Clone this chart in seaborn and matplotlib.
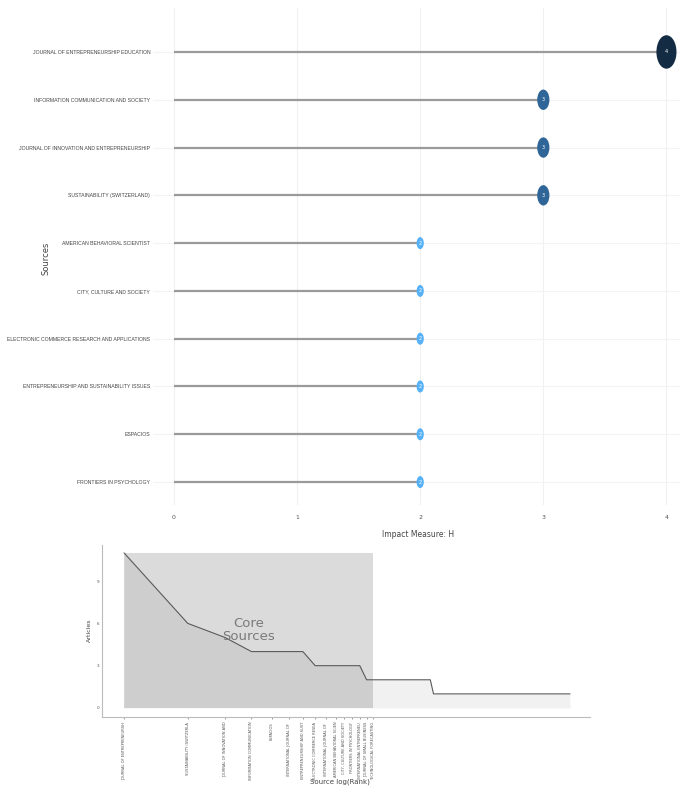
import numpy as np
import pandas as pd
import matplotlib
matplotlib.use("Agg")
import matplotlib.pyplot as plt
from matplotlib.patches import Rectangle
from matplotlib.path import Path
import seaborn as sns

# ─── Data: source impact (H index) ───────────────────────────────────────────
sources = [
    "JOURNAL OF ENTREPRENEURSHIP EDUCATION",
    "INFORMATION COMMUNICATION AND SOCIETY",
    "JOURNAL OF INNOVATION AND ENTREPRENEURSHIP",
    "SUSTAINABILITY (SWITZERLAND)",
    "AMERICAN BEHAVIORAL SCIENTIST",
    "CITY, CULTURE AND SOCIETY",
    "ELECTRONIC COMMERCE RESEARCH AND APPLICATIONS",
    "ENTREPRENEURSHIP AND SUSTAINABILITY ISSUES",
    "ESPACIOS",
    "FRONTIERS IN PSYCHOLOGY",
]
h_index = [4, 3, 3, 3, 2, 2, 2, 2, 2, 2]
h_ticks = [0, 1, 2, 3, 4]

# ─── Data: Bradford's law ────────────────────────────────────────────────────
core_sources = [
    "JOURNAL OF ENTREPRENEURSHIP EDUCATION",
    "SUSTAINABILITY (SWITZERLAND)",
    "JOURNAL OF INNOVATION AND ENTREPRENEURSHIP",
    "INFORMATION COMMUNICATION AND SOCIETY",
    "ESPACIOS",
    "INTERNATIONAL JOURNAL OF ENTREPRENEURIAL BEHAVIOR",
    "ENTREPRENEURSHIP AND SUSTAINABILITY ISSUES",
    "ELECTRONIC COMMERCE RESEARCH AND APPLICATIONS",
    "INTERNATIONAL JOURNAL OF GENDER AND ENTREPRENEURSHIP",
    "AMERICAN BEHAVIORAL SCIENTIST",
    "CITY, CULTURE AND SOCIETY",
    "FRONTIERS IN PSYCHOLOGY",
    "INTERNATIONAL ENTREPRENEURSHIP AND MANAGEMENT JOURNAL",
    "JOURNAL OF SMALL BUSINESS MANAGEMENT",
    "TECHNOLOGICAL FORECASTING AND SOCIAL CHANGE",
]
article_levels = [11, 6, 5, 4, 3, 2, 1]
sources_per_level = [1, 1, 1, 4, 6, 15, 100]
articles_ticks = [0, 3, 6, 9]

freq = np.repeat(article_levels, sources_per_level)
rank = np.arange(1, len(freq) + 1)
log_rank = np.log(rank)
n_core = len(core_sources)

sns.set_theme(style="white")
plt.rcParams["font.family"] = ["DejaVu Sans"]

fig = plt.figure(figsize=(6.84, 7.87), dpi=100)

# ─── Panel 1: lollipop of H index ────────────────────────────────────────────
ax1 = fig.add_axes([153 / 684, (787 - 505) / 787, (680 - 153) / 684, 497 / 787])
for x in h_ticks:
    ax1.axvline(x, color="#f0f0f0", lw=0.8, zorder=0)
ax1.hlines(sources, -0.2, 4.2, color="#f3f3f3", lw=0.8, zorder=0)
ax1.hlines(sources, 0, h_index, color="#9a9a9a", lw=1.6, zorder=1)

df = pd.DataFrame({"source": sources, "h": h_index})
ellipse = Path.unit_circle()
ellipse = Path(ellipse.vertices * np.array([0.6, 1.0]), ellipse.codes)
sns.scatterplot(
    data=df, x="h", y="source", hue="h", size="h",
    palette={2: "#56B1F7", 3: "#2F6697", 4: "#132B43"},
    sizes={2: 75, 3: 215, 4: 580},
    marker=ellipse, edgecolor="none", legend=False, zorder=3, ax=ax1,
)
for s, h in zip(sources, h_index):
    ax1.text(h, s, str(h), ha="center", va="center", color="white",
             fontsize=3.5, zorder=4)

ax1.set_xlim(-0.17, 4.11)
ax1.set_ylim(9.48, -0.92)
ax1.set_xticks(h_ticks)
ax1.tick_params(axis="x", labelsize=4.5, colors="#555555", pad=7, length=0)
ax1.tick_params(axis="y", labelsize=3.7, colors="#444444", pad=2, length=0)
for lab in ax1.get_yticklabels():
    lab.set_family(["Liberation Sans", "DejaVu Sans"])
ax1.set_xlabel("Impact Measure: H", fontsize=5.5, color="#444444")
ax1.set_ylabel("Sources", fontsize=6, color="#444444")
ax1.xaxis.set_label_coords(0.503, -0.05)
ax1.yaxis.set_label_coords(-0.195, 0.497)
sns.despine(ax=ax1, left=True, bottom=True)

# ─── Panel 2: Bradford's law core sources ────────────────────────────────────
ax2 = fig.add_axes([102 / 684, 70 / 787, 488 / 684, 172 / 787])
ax2.fill_between(log_rank, freq, color="#e5e5e5", alpha=0.5, lw=0, zorder=1)
ax2.add_patch(Rectangle((0, 0), log_rank[n_core - 1], freq.max(),
                        color="black", alpha=0.14, lw=0, zorder=2))
sns.lineplot(x=log_rank, y=freq, color="#5a5a5a", lw=0.8, ax=ax2, zorder=3)
ax2.text(log_rank[n_core - 1] / 2, freq.max() / 2, "Core\nSources",
         ha="center", va="center", fontsize=9.5, color="#7a7a7a",
         linespacing=1.0, zorder=4)

ax2.set_xlim(-0.24, 5.07)
ax2.set_ylim(-0.64, 11.56)
ax2.set_yticks(articles_ticks)
ax2.set_xticks(log_rank[:n_core])
ax2.set_xticklabels([s[:25] for s in core_sources], rotation=90)
ax2.tick_params(axis="x", labelsize=2.6, colors="#555555", pad=2,
                length=1.5, width=0.4, bottom=True)
ax2.tick_params(axis="y", labelsize=3, colors="#555555", pad=2,
                length=0)
ax2.set_xlabel("Source log(Rank)", fontsize=5, color="#444444")
ax2.set_ylabel("Articles", fontsize=4.5, color="#444444")
ax2.xaxis.set_label_coords(0.488, -0.355)
ax2.yaxis.set_label_coords(-0.02, 0.506)
sns.despine(ax=ax2)
for side in ["left", "bottom"]:
    ax2.spines[side].set_color("#bbbbbb")
    ax2.spines[side].set_linewidth(0.8)

fig.savefig("out.png", dpi=100)
